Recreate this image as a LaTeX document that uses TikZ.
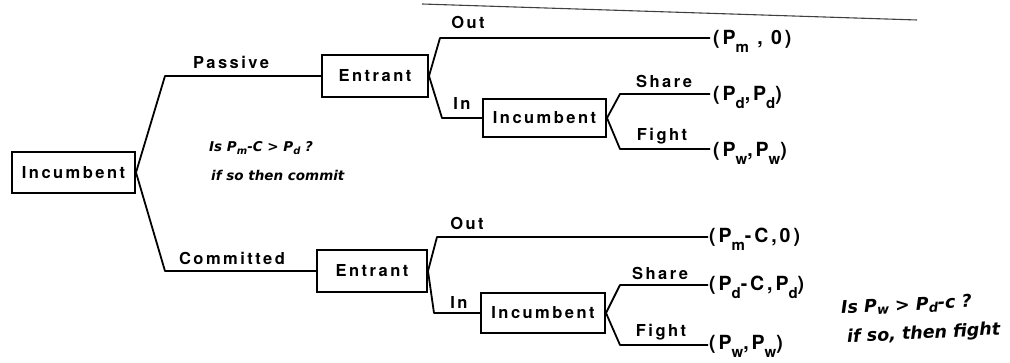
\documentclass[tikz,border=0pt]{standalone}
\usepackage{fontspec}
\newfontfamily\lab{TeX Gyre Heros}[LetterSpace=15]
\newfontfamily\handf{DejaVu Sans}
\newcommand\subx[1]{\raisebox{-0.75ex}{\fontsize{15}{15}\selectfont #1}}
\begin{document}
\begin{tikzpicture}[x=1pt,y=-1pt,
  every node/.style={font=\lab\bfseries\fontsize{16.5}{18}\selectfont, inner sep=0pt},
  box/.style={draw, line width=2pt},
  br/.style={line width=1.8pt, line join=round},
  pay/.style={anchor=base west, font=\lab\bfseries\fontsize{19.5}{21}\selectfont},
  hand/.style={anchor=west, font=\handf\bfseries\itshape\fontsize{13.5}{15}\selectfont},
  bighand/.style={hand, rotate=3, font=\handf\bfseries\itshape\fontsize{17.5}{19}\selectfont},
  scan/.style={line width=1.1pt, black!75}]
\useasboundingbox (0,0) rectangle (1010,363);
% scan edge
\draw[scan] (422,4) -- (917,20);
% decision boxes
\node[box, minimum width=123pt, minimum height=41pt] (root) at (73.5,172.5) {Incumbent};
\node[box, minimum width=106pt, minimum height=42pt] (E1) at (375,76) {Entrant};
\node[box, minimum width=110pt, minimum height=42pt] (E2) at (372,271) {Entrant};
\node[box, minimum width=123pt, minimum height=38pt] (I1) at (544.5,118) {Incumbent};
\node[box, minimum width=124pt, minimum height=40pt] (I2) at (543,313) {Incumbent};
% corner coordinates
\coordinate (pA) at (165,76);
\coordinate (pB) at (165,271);
\coordinate (o1a) at (440,38);  \coordinate (o1b) at (710,38);
\coordinate (i1a) at (442,118);
\coordinate (s1a) at (620,94);  \coordinate (s1b) at (710,94);
\coordinate (f1a) at (620,149); \coordinate (f1b) at (710,149);
\coordinate (o2a) at (437,237); \coordinate (o2b) at (708,237);
\coordinate (i2a) at (434,313);
\coordinate (s2a) at (620,285); \coordinate (s2b) at (708,285);
\coordinate (f2a) at (620,345); \coordinate (f2b) at (708,345);
% branches
\draw[br] (root.east) -- (pA) -- (E1.west);
\draw[br] (root.east) -- (pB) -- (E2.west);
\draw[br] (E1.east) -- (o1a) -- (o1b);
\draw[br] (E1.east) -- (i1a) -- (I1.west);
\draw[br] (I1.east) -- (s1a) -- (s1b);
\draw[br] (I1.east) -- (f1a) -- (f1b);
\draw[br] (E2.east) -- (o2a) -- (o2b);
\draw[br] (E2.east) -- (i2a) -- (I2.west);
\draw[br] (I2.east) -- (s2a) -- (s2b);
\draw[br] (I2.east) -- (f2a) -- (f2b);
% branch labels
\node (lP) at (231,62) {Passive};
\node (lC) at (232,258) {Committed};
\node (lO1) at (468,22) {Out};
\node (lI1) at (462,103) {In};
\node (lS1) at (664,81) {Share};
\node (lF1) at (662,136) {Fight};
\node (lO2) at (467,223) {Out};
\node (lI2) at (459,302) {In};
\node (lS2) at (660,273) {Share};
\node (lF2) at (661,332) {Fight};
% payoffs
\node[pay] (p1) at (713,45) {(P\subx{m} , 0)};
\node[pay] (p2) at (713,101) {(P\subx{d},P\subx{d})};
\node[pay] (p3) at (713,157) {(P\subx{w},P\subx{w})};
\node[pay] (p4) at (709,243) {(P\subx{m}-C,0)};
\node[pay] (p5) at (709,291) {(P\subx{d}-C,P\subx{d})};
\node[pay] (p6) at (709,350) {(P\subx{w},P\subx{w})};
% handwritten notes
\node[hand] (n1) at (209,148) {Is P\raisebox{-0.3ex}{\fontsize{10}{10}\selectfont m}-C > P\raisebox{-0.3ex}{\fontsize{10}{10}\selectfont d} ?};
\node[hand] (n2) at (211,175) {if so then commit};
\node[bighand] (n3) at (841,309) {Is P\raisebox{-0.3ex}{\fontsize{13}{13}\selectfont w} > P\raisebox{-0.3ex}{\fontsize{13}{13}\selectfont d}-c ?};
\node[bighand] (n4) at (847,338) {if so, then fight};
\end{tikzpicture}
\end{document}
